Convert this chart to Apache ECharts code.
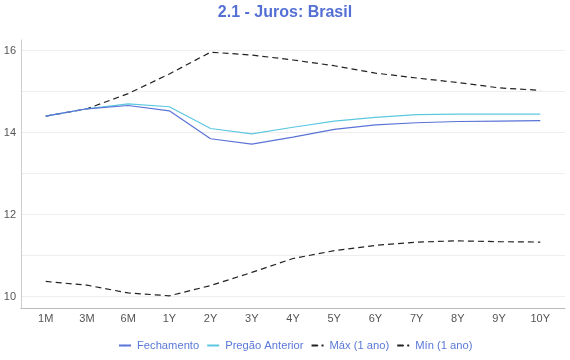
<!DOCTYPE html>
<html>
<head>
<meta charset="utf-8">
<script src="https://cdn.jsdelivr.net/npm/echarts@6/dist/echarts.min.js"></script>
<style>html,body{margin:0;padding:0;background:#fff;}#c{width:570px;height:360px;}</style>
</head>
<body>
<div id="c"></div>
<script>
var categories = ['1M','3M','6M','1Y','2Y','3Y','4Y','5Y','6Y','7Y','8Y','9Y','10Y'];
var fechamento = [14.40,14.58,14.66,14.53,13.85,13.72,13.89,14.08,14.19,14.24,14.27,14.28,14.29];
var pregaoAnterior = [14.40,14.58,14.70,14.63,14.10,13.97,14.13,14.28,14.37,14.44,14.45,14.45,14.45];
var maxAno = [14.40,14.58,14.95,15.43,15.96,15.89,15.77,15.63,15.45,15.33,15.22,15.09,15.03];
var minAno = [10.37,10.28,10.09,10.02,10.27,10.59,10.93,11.12,11.25,11.33,11.36,11.34,11.33];

var FONT = 'Liberation Sans, Arial, sans-serif';
function toXY(arr){ return arr.map(function(v,i){ return [i, v]; }); }

var chart = echarts.init(document.getElementById('c'), null, {renderer:'canvas'});
chart.setOption({
  animation:false,
  backgroundColor:'#fff',
  title:{
    text:'2.1 - Juros: Brasil', left:'center', top:0,
    textStyle:{color:'#5470d4', fontSize:16, fontWeight:'bold', fontFamily:FONT}
  },
  legend:{
    bottom:4, left:113, itemWidth:12, itemHeight:2, itemGap:7,
    textStyle:{color:'#5a78d8', fontSize:11.2, fontFamily:FONT, padding:[0,0,0,1]},
    data:['Fechamento','Pregão Anterior','Máx (1 ano)','Mín (1 ano)']
  },
  grid:{left:21, right:5, top:40, bottom:52},
  xAxis:{
    type:'value',
    min:-0.6, max:categories.length-1+0.6,
    splitNumber:13,
    axisLine:{show:true, onZero:false, lineStyle:{color:'#bbb', width:1}},
    axisTick:{show:false},
    splitLine:{show:false},
    axisLabel:{
      color:'#555', fontSize:11, fontFamily:FONT, margin:5,
      showMinLabel:false, showMaxLabel:false,
      formatter:function(v){ var i=Math.round(v); return (Math.abs(v-i)<1e-6 && categories[i]) ? categories[i] : ''; }
    }
  },
  yAxis:{
    type:'value',
    min:function(e){ return +(e.min-0.05*(e.max-e.min)).toFixed(3); },
    max:function(e){ return +(e.max+0.05*(e.max-e.min)).toFixed(3); },
    splitNumber:6,
    axisLine:{show:true, onZero:false, lineStyle:{color:'#ccc', width:1}},
    axisTick:{show:false},
    splitLine:{show:true, showMinLine:false, showMaxLine:false, lineStyle:{color:'#eeeeee', width:1}},
    axisLabel:{
      color:'#555', fontSize:11, fontFamily:FONT, margin:5,
      showMinLabel:false, showMaxLabel:false,
      formatter:function(v){ var i=Math.round(v); return (Math.abs(v-i)<1e-6 && i%2===0) ? String(i) : ''; }
    }
  },
  series:[
    {name:'Máx (1 ano)', type:'line', data:toXY(maxAno), symbol:'none', color:'#222', lineStyle:{color:'#222', width:1.2, type:[6,4]}, z:1},
    {name:'Mín (1 ano)', type:'line', data:toXY(minAno), symbol:'none', color:'#222', lineStyle:{color:'#222', width:1.2, type:[6,4]}, z:1},
    {name:'Pregão Anterior', type:'line', data:toXY(pregaoAnterior), symbol:'none', color:'#5cc8e0', lineStyle:{color:'#5cc8e0', width:1.2}, z:2},
    {name:'Fechamento', type:'line', data:toXY(fechamento), symbol:'none', color:'#5b73d6', lineStyle:{color:'#5b73d6', width:1.2}, z:3}
  ]
});
</script>
</body>
</html>
